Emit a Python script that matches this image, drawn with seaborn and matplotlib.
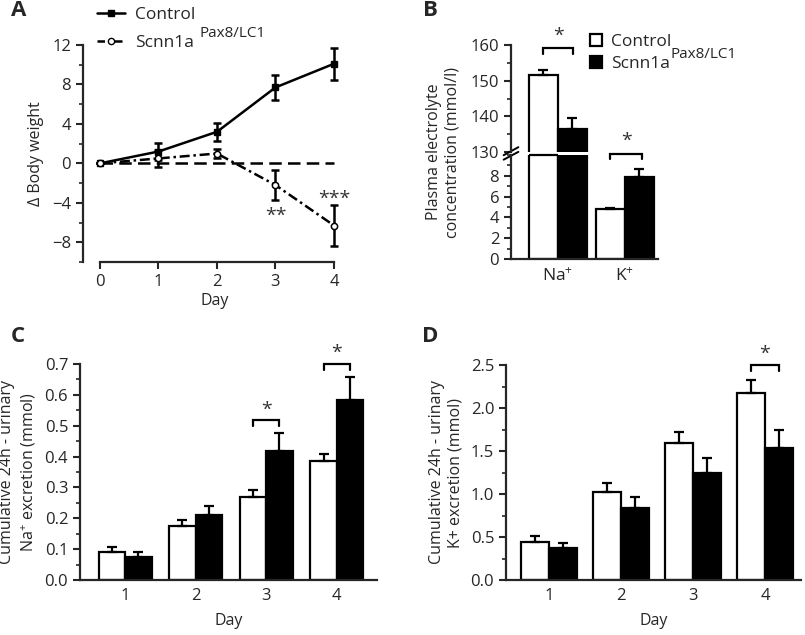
import numpy as np
import pandas as pd
import matplotlib
matplotlib.use("Agg")
import matplotlib.pyplot as plt
from matplotlib.lines import Line2D
from matplotlib.patches import Patch
from matplotlib.ticker import MultipleLocator, FormatStrFormatter
import seaborn as sns

# Panel A - body weight change
days_a = [0, 1, 2, 3, 4]
ctrl_bw = [0, 1.2, 3.2, 7.7, 10.1]
ctrl_bw_err = [0, 0.9, 0.9, 1.3, 1.6]
ko_bw = [0, 0.5, 1.0, -2.2, -6.3]
ko_bw_err = [0, 0.9, 0.5, 1.5, 2.1]

# Panel B - plasma electrolytes
ions = ['Na$^{+}$', 'K$^{+}$']
ctrl_plasma = [151.5, 4.8]
ctrl_plasma_err = [1.5, 0.15]
ko_plasma = [136.5, 7.9]
ko_plasma_err = [3.0, 0.8]

# Panel C / D - cumulative urinary excretion
days = ['1', '2', '3', '4']
ctrl_na = [0.092, 0.175, 0.270, 0.387]
ctrl_na_err = [0.015, 0.019, 0.022, 0.021]
ko_na = [0.076, 0.211, 0.419, 0.583]
ko_na_err = [0.014, 0.030, 0.058, 0.076]

ctrl_k = [0.446, 1.027, 1.597, 2.178]
ctrl_k_err = [0.066, 0.105, 0.120, 0.148]
ko_k = [0.368, 0.841, 1.240, 1.539]
ko_k_err = [0.066, 0.128, 0.175, 0.205]

sns.set_style("ticks")
plt.rcParams['font.family'] = ['Open Sans', 'DejaVu Sans']
plt.rcParams['mathtext.fontset'] = 'custom'
plt.rcParams['mathtext.rm'] = 'Open Sans'
plt.rcParams['mathtext.it'] = 'Open Sans:italic'
plt.rcParams['mathtext.bf'] = 'Open Sans:bold'
plt.rcParams['axes.linewidth'] = 1.6
plt.rcParams['xtick.major.width'] = 1.5
plt.rcParams['ytick.major.width'] = 1.5
plt.rcParams['xtick.minor.width'] = 1.2
plt.rcParams['ytick.minor.width'] = 1.2
plt.rcParams['xtick.major.size'] = 5
plt.rcParams['ytick.major.size'] = 5
plt.rcParams['ytick.minor.size'] = 3
plt.rcParams['xtick.labelsize'] = 12
plt.rcParams['ytick.labelsize'] = 12
plt.rcParams['axes.labelsize'] = 11.5

W, H = 805, 635
fig = plt.figure(figsize=(8.05, 6.35), dpi=100)


def px_axes(left, top, right, bottom):
    return fig.add_axes([left / W, 1 - bottom / H, (right - left) / W, (bottom - top) / H])


def bar_panel(ax, cats, ctrl, ctrl_err, ko, ko_err, width):
    n = len(cats)
    df = pd.DataFrame({'cat': list(cats) * 2,
                       'val': list(ctrl) + list(ko),
                       'grp': ['Control'] * n + ['KO'] * n})
    sns.barplot(data=df, x='cat', y='val', hue='grp', order=cats,
                hue_order=['Control', 'KO'], palette=['white', 'black'],
                saturation=1, edgecolor='black', linewidth=1.6, width=width,
                errorbar=None, legend=False, ax=ax)
    errs = list(ctrl_err) + list(ko_err)
    centers = []
    for p, e in zip(ax.patches, errs):
        xc = p.get_x() + p.get_width() / 2
        centers.append(xc)
        ax.errorbar(xc, p.get_height(), yerr=[[0], [e]], color='black',
                    capsize=3.5, elinewidth=1.6, capthick=1.6, zorder=1)
    sns.despine(ax=ax)
    ax.set_xlabel('')
    ax.set_ylabel('')
    ax.tick_params(axis='x', length=0, pad=6)
    return centers


def bracket(ax, x0, x1, y, leg, star_y, fs=14):
    ax.plot([x0, x0, x1, x1], [y - leg, y, y, y - leg], color='black',
            lw=1.6, clip_on=False, solid_joinstyle='miter')
    ax.text((x0 + x1) / 2, star_y, '*', ha='center', va='center',
            fontsize=fs, color='#333333', clip_on=False)


# ---------------- Panel A ----------------
dashdot = (0, (4, 1.5, 1, 1.5))
axA = px_axes(83, 45, 345.7, 262)
axA.hlines(0, 0, 4, colors='black', linestyles=(0, (5, 2.5)), lw=1.8, zorder=1)
axA.errorbar(days_a, ctrl_bw, yerr=ctrl_bw_err, fmt='none', ecolor='black',
             capsize=3, elinewidth=1.8, capthick=1.8, zorder=2)
axA.errorbar(days_a, ko_bw, yerr=ko_bw_err, fmt='none', ecolor='black',
             capsize=3, elinewidth=1.8, capthick=1.8, zorder=2)
sns.lineplot(x=days_a, y=ctrl_bw, ax=axA, color='black', marker='s',
             markersize=4, markeredgecolor='black', markeredgewidth=1,
             linewidth=1.8, zorder=3)
sns.lineplot(x=days_a, y=ko_bw, ax=axA, color='black', marker='o',
             markersize=4.5, markerfacecolor='white', markeredgecolor='black',
             markeredgewidth=1.1, linewidth=1.8, linestyle=dashdot, zorder=3)
axA.set_xlim(-0.29, 4.2)
axA.set_ylim(-10, 12)
axA.set_yticks([-8, -4, 0, 4, 8, 12])
axA.yaxis.set_minor_locator(MultipleLocator(2))
axA.set_xticks(days_a)
sns.despine(ax=axA)
axA.spines['bottom'].set_bounds(0, 4)
axA.spines['left'].set_bounds(-10, 12)
axA.set_xlabel('Day', labelpad=2)
axA.set_ylabel('\u0394 Body weight', labelpad=6)
axA.text(3, -5.3, '**', ha='center', va='center', fontsize=14, color='#333333')
axA.text(4, -3.6, '***', ha='center', va='center', fontsize=14, color='#333333')

legA_handles = [Line2D([], [], color='black', lw=1.8, marker='s', markersize=4),
                Line2D([], [], color='black', lw=1.8, linestyle=(0, (3, 1.5, 1, 1.5)),
                       marker='o', markersize=4.5, markerfacecolor='white')]
legA = fig.legend(legA_handles, ['Control', 'Scnn1a'], loc='upper left',
                  bbox_to_anchor=(97 / W, 1 - 7 / H), frameon=False, fontsize=12.5,
                  handlelength=1.6, handletextpad=0.6, labelspacing=0.65,
                  borderpad=0, borderaxespad=0)

# ---------------- Panel B ----------------
axB1 = px_axes(511, 45, 658.4, 152)
axB2 = px_axes(511, 155, 658.4, 259)
for ax in (axB1, axB2):
    bar_panel(ax, ions, ctrl_plasma, ctrl_plasma_err, ko_plasma, ko_plasma_err, 0.87)
    ax.set_xlim(-0.7, 1.5)
axB1.set_ylim(130, 160)
axB1.set_yticks([130, 140, 150, 160])
axB1.yaxis.set_minor_locator(MultipleLocator(5))
axB1.spines['bottom'].set_visible(False)
axB1.tick_params(axis='x', bottom=False, labelbottom=False)
axB2.set_ylim(0, 10)
axB2.set_yticks([0, 2, 4, 6, 8])
axB2.yaxis.set_minor_locator(MultipleLocator(1))
axB2.tick_params(axis='x', labelsize=12.5)
# break marks on the axis
axB1.plot([-0.05, 0.05], [-0.03, 0.045], transform=axB1.transAxes,
          color='black', lw=1.4, clip_on=False)
axB2.plot([-0.05, 0.05], [0.955, 1.03], transform=axB2.transAxes,
          color='black', lw=1.4, clip_on=False)
pNa = axB2.patches[0]
axB2.hlines(10, pNa.get_x(), pNa.get_x() + pNa.get_width(), colors='black',
            lw=1.6, clip_on=False)
bracket(axB1, -0.22, 0.225, 159.2, 1.7, 162.7)
bracket(axB2, 0.78, 1.255, 10.1, 0.5, 11.4)
fig.text(443 / W, 1 - 152 / H, 'Plasma electrolyte\nconcentration (mmol/l)',
         rotation=90, ha='center', va='center', fontsize=11.5, linespacing=1.2)
legB_handles = [Patch(facecolor='white', edgecolor='black', lw=1.6),
                Patch(facecolor='black', edgecolor='black', lw=1.6)]
legB = fig.legend(legB_handles, ['Control', 'Scnn1a'], loc='upper left',
                  bbox_to_anchor=(590 / W, 1 - 34 / H), frameon=False, fontsize=12.5,
                  handlelength=0.7, handleheight=0.7, handletextpad=0.5,
                  labelspacing=0.35, borderpad=0, borderaxespad=0)

# ---------------- Panel C ----------------
axC = px_axes(80, 364, 377, 580)
cC = bar_panel(axC, days, ctrl_na, ctrl_na_err, ko_na, ko_na_err, 0.75)
axC.set_xlim(-0.64, 3.57)
axC.set_ylim(0, 0.7)
axC.yaxis.set_major_locator(MultipleLocator(0.1))
axC.yaxis.set_minor_locator(MultipleLocator(0.05))
axC.yaxis.set_major_formatter(FormatStrFormatter('%.1f'))
axC.set_xlabel('Day', labelpad=6)
axC.set_ylabel('Cumulative 24h - urinary\nNa$^{+}$ excretion (mmol)', labelpad=5,
               linespacing=1.2)
bracket(axC, cC[2], cC[6], 0.518, 0.018, 0.553)
bracket(axC, cC[3], cC[7], 0.700, 0.018, 0.736)

# ---------------- Panel D ----------------
axD = px_axes(506, 365, 801, 580)
cD = bar_panel(axD, days, ctrl_k, ctrl_k_err, ko_k, ko_k_err, 0.77)
axD.set_xlim(-0.6, 3.5)
axD.set_ylim(0, 2.5)
axD.yaxis.set_major_locator(MultipleLocator(0.5))
axD.yaxis.set_minor_locator(MultipleLocator(0.25))
axD.yaxis.set_major_formatter(FormatStrFormatter('%.1f'))
axD.set_xlabel('Day', labelpad=6)
axD.set_ylabel('Cumulative 24h - urinary\nK+ excretion (mmol)', labelpad=5,
               linespacing=1.2)
bracket(axD, cD[3], cD[7], 2.50, 0.065, 2.63)

# panel letters
for lbl, x, y in (('A', 19, 11), ('B', 430, 10), ('C', 18, 336), ('D', 430, 336)):
    fig.text(x / W, 1 - y / H, lbl, ha='center', va='center', fontsize=16,
             fontweight='bold')

# superscripts after the legend labels
fig.canvas.draw()
rend = fig.canvas.get_renderer()
for leg, gap, fs in ((legA, 5, 11), (legB, 1, 11)):
    bb = leg.get_texts()[1].get_window_extent(rend)
    fig.text((bb.x1 + gap) / W, (bb.y0 + 0.62 * bb.height) / H, 'Pax8/LC1',
             ha='left', va='bottom', fontsize=fs)

fig.savefig('out.png', dpi=100)
